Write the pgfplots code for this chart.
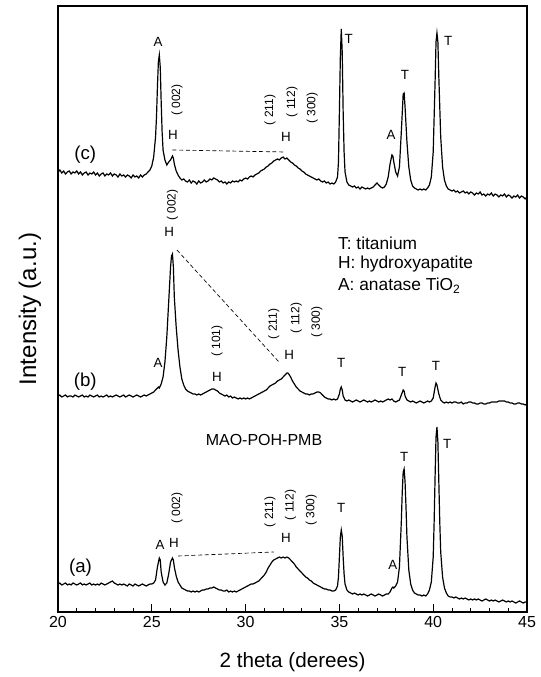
\documentclass[border=0pt]{standalone}
\usepackage{fontspec}
\setmainfont{Liberation Sans}
\usepackage{pgfplots}
\pgfplotsset{compat=1.18}
\begin{document}
\begin{tikzpicture}[
  lbl/.style={font=\fontsize{10}{12}\selectfont, inner sep=0pt},
  hkl/.style={font=\fontsize{9}{10}\selectfont, rotate=90, inner sep=0pt},
  trc/.style={font=\fontsize{14}{16}\selectfont, inner sep=0pt},
  leg/.style={font=\fontsize{13}{15}\selectfont, inner sep=0pt, anchor=west}
]
\begin{axis}[
  scale only axis, width=351.75pt, height=454.5pt,
  xmin=20, xmax=45, ymin=0, ymax=606,
  axis line style={line width=0.8pt},
  xtick={20,25,...,45}, minor x tick num=4,
  ytick=\empty,
  xtick pos=bottom, tick align=inside,
  major tick length=6pt, minor tick length=3pt,
  every tick/.style={black, line width=0.6pt},
  /pgf/number format/assume math mode=true,
  xticklabel style={font=\fontsize{12}{14}\selectfont},
  clip=false,
  cycle list={{black, line width=0.9pt, mark=none}},
]
% (c)
\addplot[black, line width=0.9pt, mark=none] coordinates {
(20.0,440) (20.1,442) (20.2,439) (20.3,441) (20.4,438) (20.5,440) (20.6,441) (20.7,438) (20.8,440) (20.9,439)
(21.0,441) (21.1,438) (21.2,440) (21.3,437) (21.4,439) (21.5,440) (21.6,437) (21.7,439) (21.8,438) (21.9,440)
(22.0,437) (22.1,439) (22.2,436) (22.3,438) (22.4,439) (22.5,436) (22.6,438) (22.7,437) (22.8,439) (22.9,436)
(23.0,438) (23.1,437) (23.2,435) (23.3,438) (23.4,436) (23.5,437) (23.6,435) (23.7,437) (23.8,436) (23.9,434)
(24.0,437) (24.1,435) (24.2,436) (24.3,434) (24.4,437) (24.5,435) (24.6,437) (24.7,438) (24.8,440) (24.9,442)
(25.0,446) (25.1,455) (25.2,475) (25.25,495) (25.3,525) (25.35,550) (25.4,557) (25.45,545) (25.5,510) (25.55,480)
(25.6,462) (25.7,452) (25.8,447) (25.9,450) (26.0,452) (26.1,456) (26.15,454) (26.2,448) (26.3,441) (26.4,437)
(26.5,434) (26.6,432) (26.7,433) (26.8,431) (26.9,430) (27.0,432) (27.1,429) (27.2,431) (27.3,430) (27.4,428)
(27.5,431) (27.6,429) (27.7,430) (27.8,432) (27.9,430) (28.0,431) (28.1,433) (28.2,432) (28.3,434) (28.4,433)
(28.5,432) (28.6,430) (28.7,431) (28.8,429) (28.9,430) (29.0,428) (29.1,430) (29.2,429) (29.3,431) (29.4,430)
(29.5,431) (29.6,430) (29.7,432) (29.8,431) (29.9,433) (30.0,434) (30.1,433) (30.2,435) (30.3,436) (30.4,435)
(30.5,437) (30.6,438) (30.7,439) (30.8,441) (30.9,442) (31.0,443) (31.1,445) (31.2,446) (31.3,448) (31.4,449)
(31.5,451) (31.6,452) (31.7,453) (31.8,452) (31.9,454) (32.0,455) (32.1,453) (32.2,454) (32.3,452) (32.4,450)
(32.5,449) (32.6,447) (32.7,446) (32.8,444) (32.9,443) (33.0,441) (33.1,440) (33.2,438) (33.3,437) (33.4,436)
(33.5,435) (33.6,434) (33.7,433) (33.8,432) (33.9,433) (34.0,431) (34.1,430) (34.2,431) (34.3,429) (34.4,430)
(34.5,428) (34.6,429) (34.7,428) (34.8,430) (34.9,435) (34.95,450) (35.0,500) (35.05,555) (35.1,583) (35.15,560)
(35.2,500) (35.25,460) (35.3,440) (35.4,430) (35.5,427) (35.6,426) (35.7,425) (35.8,426) (35.9,424) (36.0,425)
(36.1,423) (36.2,425) (36.3,424) (36.4,423) (36.5,424) (36.6,423) (36.7,424) (36.8,425) (36.9,427) (37.0,429)
(37.1,427) (37.2,425) (37.3,424) (37.4,425) (37.5,428) (37.6,435) (37.7,448) (37.8,457) (37.85,456) (37.9,450)
(38.0,440) (38.1,436) (38.2,445) (38.3,480) (38.4,518) (38.45,519) (38.5,505) (38.6,470) (38.7,445) (38.8,432)
(38.9,426) (39.0,424) (39.1,423) (39.2,422) (39.3,423) (39.4,422) (39.5,423) (39.6,422) (39.7,424) (39.8,427)
(39.9,435) (40.0,460) (40.1,530) (40.15,570) (40.2,579) (40.25,570) (40.3,535) (40.4,475) (40.5,445) (40.6,432)
(40.7,426) (40.8,423) (40.9,422) (41.0,421) (41.1,422) (41.2,420) (41.3,421) (41.4,419) (41.5,420) (41.6,421)
(41.7,419) (41.8,420) (41.9,418) (42.0,420) (42.1,419) (42.2,417) (42.3,419) (42.4,418) (42.5,420) (42.6,417)
(42.7,418) (42.8,416) (42.9,418) (43.0,417) (43.1,419) (43.2,416) (43.3,418) (43.4,417) (43.5,415) (43.6,417)
(43.7,416) (43.8,418) (43.9,415) (44.0,417) (44.1,416) (44.2,414) (44.3,416) (44.4,415) (44.5,417) (44.6,414)
(44.7,416) (44.8,415) (44.9,413) (45.0,415)
};
% (b)
\addplot[black, line width=0.9pt, mark=none] coordinates {
(20.0,216) (20.1,217) (20.2,215) (20.3,216) (20.4,217) (20.5,215) (20.6,216) (20.7,216) (20.8,215) (20.9,217)
(21.0,216) (21.1,215) (21.2,216) (21.3,217) (21.4,215) (21.5,216) (21.6,215) (21.7,217) (21.8,216) (21.9,215)
(22.0,216) (22.1,217) (22.2,215) (22.3,216) (22.4,215) (22.5,216) (22.6,217) (22.7,215) (22.8,216) (22.9,215)
(23.0,216) (23.1,217) (23.2,216) (23.3,215) (23.4,216) (23.5,217) (23.6,215) (23.7,216) (23.8,217) (23.9,216)
(24.0,215) (24.1,216) (24.2,217) (24.3,216) (24.4,215) (24.5,216) (24.6,217) (24.7,216) (24.8,217) (24.9,218)
(25.0,219) (25.1,220) (25.2,222) (25.3,224) (25.35,225) (25.4,224) (25.5,228) (25.6,235) (25.7,250) (25.8,275)
(25.9,310) (26.0,345) (26.05,356) (26.1,358) (26.15,345) (26.2,315) (26.3,285) (26.4,262) (26.5,245) (26.6,233)
(26.7,227) (26.8,223) (26.9,221) (27.0,220) (27.1,219) (27.2,218) (27.3,218) (27.4,217) (27.5,218) (27.6,217)
(27.7,218) (27.8,219) (27.9,220) (28.0,221) (28.1,222) (28.2,223) (28.3,223) (28.4,222) (28.5,221) (28.6,219)
(28.7,218) (28.8,217) (28.9,216) (29.0,217) (29.1,215) (29.2,216) (29.3,214) (29.4,215) (29.5,214) (29.6,213)
(29.7,214) (29.8,213) (29.9,214) (30.0,213) (30.1,214) (30.2,213) (30.3,214) (30.4,215) (30.5,216) (30.6,217)
(30.7,218) (30.8,219) (30.9,220) (31.0,221) (31.1,222) (31.2,224) (31.3,226) (31.4,227) (31.5,228) (31.6,229)
(31.7,231) (31.8,232) (31.9,233) (32.0,235) (32.1,237) (32.2,239) (32.25,239) (32.3,238) (32.4,235) (32.5,231)
(32.6,228) (32.7,225) (32.8,223) (32.9,221) (33.0,220) (33.1,219) (33.2,218) (33.3,218) (33.4,217) (33.5,218)
(33.6,218) (33.7,219) (33.8,220) (33.9,220) (34.0,219) (34.1,217) (34.2,215) (34.3,214) (34.4,213) (34.5,213)
(34.6,212) (34.7,213) (34.8,212) (34.9,213) (35.0,218) (35.05,223) (35.1,225) (35.15,222) (35.2,216) (35.3,212)
(35.4,211) (35.5,212) (35.6,211) (35.7,210) (35.8,211) (35.9,212) (36.0,211) (36.1,210) (36.2,211) (36.3,212)
(36.4,211) (36.5,210) (36.6,211) (36.7,210) (36.8,211) (36.9,212) (37.0,211) (37.1,210) (37.2,211) (37.3,210)
(37.4,211) (37.5,212) (37.6,213) (37.7,212) (37.8,213) (37.9,211) (38.0,210) (38.1,211) (38.2,212) (38.3,217)
(38.4,222) (38.45,221) (38.5,216) (38.6,212) (38.7,211) (38.8,210) (38.9,211) (39.0,210) (39.1,209) (39.2,210)
(39.3,211) (39.4,210) (39.5,209) (39.6,210) (39.7,211) (39.8,210) (39.9,211) (40.0,214) (40.1,225) (40.15,229)
(40.2,227) (40.3,218) (40.4,212) (40.5,210) (40.6,209) (40.7,210) (40.8,209) (40.9,210) (41.0,209) (41.1,210)
(41.2,210) (41.3,209) (41.4,209) (41.5,210) (41.6,208) (41.7,209) (41.8,209) (41.9,210) (42.0,210) (42.1,209)
(42.2,209) (42.3,208) (42.4,208) (42.5,209) (42.6,209) (42.7,208) (42.8,208) (42.9,209) (43.0,209) (43.1,210)
(43.2,210) (43.3,210) (43.4,210) (43.5,211) (43.6,211) (43.7,211) (43.8,211) (43.9,210) (44.0,210) (44.1,209)
(44.2,209) (44.3,208) (44.4,208) (44.5,209) (44.6,209) (44.7,208) (44.8,208) (44.9,207) (45.0,208)
};
% (a)
\addplot[black, line width=0.9pt, mark=none] coordinates {
(20.0,28) (20.1,29) (20.2,27) (20.3,28) (20.4,29) (20.5,27) (20.6,28) (20.7,27) (20.8,29) (20.9,28)
(21.0,27) (21.1,28) (21.2,29) (21.3,27) (21.4,28) (21.5,27) (21.6,28) (21.7,29) (21.8,27) (21.9,28)
(22.0,27) (22.1,28) (22.2,27) (22.3,29) (22.4,28) (22.5,27) (22.6,28) (22.7,29) (22.8,30) (22.9,31)
(23.0,29) (23.1,28) (23.2,27) (23.3,28) (23.4,27) (23.5,28) (23.6,27) (23.7,26) (23.8,28) (23.9,27)
(24.0,26) (24.1,28) (24.2,27) (24.3,26) (24.4,27) (24.5,28) (24.6,27) (24.7,26) (24.8,27) (24.9,28)
(25.0,28) (25.1,29) (25.2,32) (25.3,45) (25.4,54) (25.45,52) (25.5,40) (25.6,30) (25.7,27) (25.8,29)
(25.9,38) (26.0,50) (26.1,54) (26.15,52) (26.2,45) (26.3,36) (26.4,30) (26.5,27) (26.6,24) (26.7,23)
(26.8,22) (26.9,21) (27.0,21) (27.1,20) (27.2,21) (27.3,20) (27.4,21) (27.5,20) (27.6,21) (27.7,22)
(27.8,22) (27.9,23) (28.0,23) (28.1,24) (28.2,24) (28.3,25) (28.4,24) (28.5,23) (28.6,22) (28.7,22)
(28.8,21) (28.9,21) (29.0,22) (29.1,20) (29.2,21) (29.3,20) (29.4,21) (29.5,20) (29.6,21) (29.7,22)
(29.8,23) (29.9,24) (30.0,25) (30.1,26) (30.2,27) (30.3,28) (30.4,28) (30.5,29) (30.6,30) (30.7,31)
(30.8,33) (30.9,35) (31.0,37) (31.1,40) (31.2,44) (31.3,47) (31.4,50) (31.5,52) (31.6,53) (31.7,54)
(31.8,55) (31.9,54) (32.0,55) (32.1,54) (32.2,55) (32.3,54) (32.4,52) (32.5,50) (32.6,48) (32.7,45)
(32.8,43) (32.9,41) (33.0,39) (33.1,37) (33.2,35) (33.3,34) (33.4,32) (33.5,31) (33.6,29) (33.7,28)
(33.8,27) (33.9,26) (34.0,25) (34.1,24) (34.2,23) (34.3,23) (34.4,22) (34.5,22) (34.6,21) (34.7,21)
(34.8,22) (34.9,26) (34.95,35) (35.0,55) (35.05,75) (35.1,82) (35.15,76) (35.2,55) (35.25,38) (35.3,28)
(35.4,22) (35.5,20) (35.6,19) (35.7,18) (35.8,19) (35.9,18) (36.0,17) (36.1,18) (36.2,17) (36.3,18)
(36.4,17) (36.5,16) (36.6,17) (36.7,18) (36.8,17) (36.9,16) (37.0,17) (37.1,18) (37.2,17) (37.3,16)
(37.4,17) (37.5,18) (37.6,18) (37.7,20) (37.8,24) (37.85,25) (37.9,24) (38.0,26) (38.1,30) (38.2,45)
(38.3,90) (38.35,120) (38.4,140) (38.45,143) (38.5,130) (38.55,105) (38.6,75) (38.7,42) (38.8,28) (38.9,22)
(39.0,19) (39.1,18) (39.2,17) (39.3,17) (39.4,16) (39.5,17) (39.6,16) (39.7,18) (39.8,22) (39.9,30)
(40.0,55) (40.05,90) (40.1,135) (40.15,175) (40.2,185) (40.25,170) (40.3,130) (40.35,90) (40.4,60) (40.5,35)
(40.6,24) (40.7,19) (40.8,16) (40.9,15) (41.0,15) (41.1,14) (41.2,15) (41.3,14) (41.4,13) (41.5,14)
(41.6,13) (41.7,14) (41.8,13) (41.9,12) (42.0,13) (42.1,12) (42.2,13) (42.3,12) (42.4,13) (42.5,12)
(42.6,11) (42.7,12) (42.8,13) (42.9,12) (43.0,11) (43.1,12) (43.2,11) (43.3,12) (43.4,11) (43.5,10)
(43.6,11) (43.7,12) (43.8,11) (43.9,10) (44.0,11) (44.1,10) (44.2,11) (44.3,10) (44.4,9) (44.5,10)
(44.6,11) (44.7,10) (44.8,9) (44.9,10) (45.0,10)
};
% --- annotations (c)
\node[trc] at (axis cs:21.45,457) {(c)};
\node[lbl] at (axis cs:25.33,570) {A};
\node[hkl] at (axis cs:26.34,512) {( 002)};
\node[lbl] at (axis cs:26.13,477) {H};
\draw[densely dashed, line width=0.5pt] (axis cs:26.1,462) -- (axis cs:32.1,460);
\node[hkl] at (axis cs:31.3,502) {( 211)};
\node[hkl] at (axis cs:32.47,510) {( 112)};
\node[hkl] at (axis cs:33.55,504) {( 300)};
\node[lbl] at (axis cs:32.15,475) {H};
\node[lbl] at (axis cs:35.5,573) {T};
\node[lbl] at (axis cs:37.75,477) {A};
\node[lbl] at (axis cs:38.5,537) {T};
\node[lbl] at (axis cs:40.8,571) {T};
% --- annotations (b)
\node[trc] at (axis cs:21.45,230) {(b)};
\node[hkl] at (axis cs:26.1,407) {( 002)};
\node[lbl] at (axis cs:25.93,380) {H};
\draw[densely dashed, line width=0.5pt] (axis cs:26.34,362) -- (axis cs:31.83,249);
\node[leg] at (axis cs:34.92,369) {T: titanium};
\node[leg] at (axis cs:34.92,348) {H: hydroxyapatite};
\node[leg] at (axis cs:34.92,326) {A: anatase TiO\textsubscript{2}};
\node[lbl] at (axis cs:25.33,249) {A};
\node[hkl] at (axis cs:28.47,271) {( 101)};
\node[lbl] at (axis cs:28.47,235) {H};
\node[hkl] at (axis cs:31.5,288) {( 211)};
\node[hkl] at (axis cs:32.7,294) {( 112)};
\node[hkl] at (axis cs:33.8,290) {( 300)};
\node[lbl] at (axis cs:32.32,257) {H};
\node[lbl] at (axis cs:35.1,249) {T};
\node[lbl] at (axis cs:38.35,240) {T};
\node[lbl] at (axis cs:40.15,246) {T};
% --- annotations (a)
\node[font=\fontsize{12}{14}\selectfont, inner sep=0pt] at (axis cs:30.98,172) {MAO-POH-PMB};
\node[trc] at (axis cs:21.2,44) {(a)};
\node[hkl] at (axis cs:26.34,104) {( 002)};
\node[lbl] at (axis cs:25.44,67) {A};
\node[lbl] at (axis cs:26.18,69) {H};
\draw[densely dashed, line width=0.5pt] (axis cs:26.4,56) -- (axis cs:31.5,60);
\node[hkl] at (axis cs:31.3,100) {( 211)};
\node[hkl] at (axis cs:32.4,107) {( 112)};
\node[hkl] at (axis cs:33.5,102) {( 300)};
\node[lbl] at (axis cs:32.15,74) {H};
\node[lbl] at (axis cs:35.1,104) {T};
\node[lbl] at (axis cs:37.85,47) {A};
\node[lbl] at (axis cs:38.45,155) {T};
\node[lbl] at (axis cs:40.75,168) {T};
% axis titles
\node[font=\fontsize{15.5}{18}\selectfont] at ([yshift=-37.5pt]rel axis cs:0.5,0) {2 theta (derees)};
\node[font=\fontsize{18}{20}\selectfont, rotate=90] at ([xshift=-21pt]rel axis cs:0,0.5) {Intensity (a.u.)};
\end{axis}
\pgfresetboundingbox
\path (-43.5pt,-48.75pt) rectangle (362.25pt,459pt);
\end{tikzpicture}
\end{document}
